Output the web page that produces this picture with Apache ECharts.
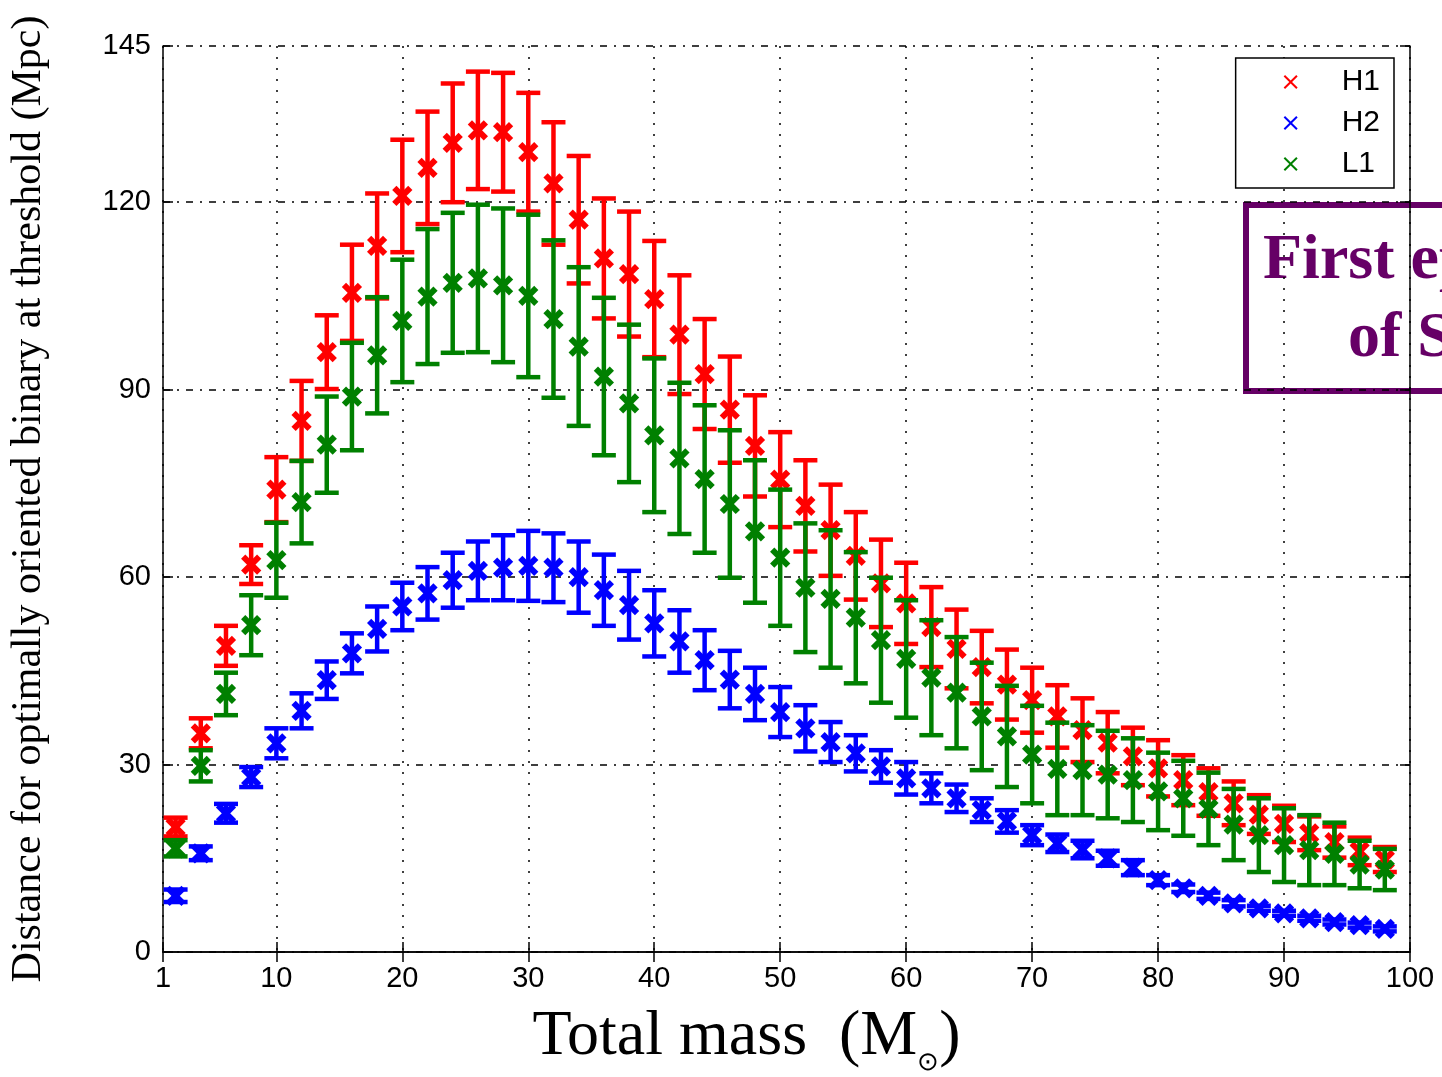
<!DOCTYPE html>
<html>
<head>
<meta charset="utf-8">
<script src="https://cdn.jsdelivr.net/npm/echarts@6/dist/echarts.min.js"></script>
<style>
  html, body { margin: 0; padding: 0; background: #fff; }
  #chart { width: 1442px; height: 1077px; }
</style>
</head>
<body>
<div id="chart"></div>
<script>
// total mass (solar masses)
var masses = [2, 4, 6, 8, 10, 12, 14, 16, 18, 20, 22, 24, 26, 28, 30, 32, 34, 36, 38, 40,
  42, 44, 46, 48, 50, 52, 54, 56, 58, 60, 62, 64, 66, 68, 70, 72, 74, 76, 78, 80,
  82, 84, 86, 88, 90, 92, 94, 96, 98];
var xTicks = [1, 10, 20, 30, 40, 50, 60, 70, 80, 90, 100];

// H1 distance and error (Mpc)
var h1Dist = [20, 35, 49, 62, 74, 85, 96, 105.5, 113, 121, 125.5, 129.5, 131.5, 131.2, 128, 123, 117.2, 111, 108.5, 104.5,
  98.8, 92.5, 86.8, 81, 75.6, 71.4, 67.5, 63.4, 59, 55.8, 52, 48.5, 45.6, 42.8, 40.3, 37.7, 35.5, 33.5, 31.3, 29.4,
  27.5, 25.6, 23.8, 22, 20.5, 19, 17.6, 16.1, 14.8];
var h1Err = [1.5, 2.4, 3.2, 3.1, 5.2, 6.4, 5.9, 7.7, 8.4, 9.0, 9.0, 9.5, 9.4, 9.5, 9.5, 9.8, 10.2, 9.6, 10, 9.3,
  9.5, 8.8, 8.5, 8.1, 7.6, 7.3, 7.3, 7.0, 7.0, 6.5, 6.4, 6.3, 5.8, 5.6, 5.2, 5.0, 5.1, 4.9, 4.6, 4.5,
  4.0, 3.8, 3.5, 3.1, 2.9, 2.7, 2.5, 2.2, 2.0];

// H2
var h2Dist = [9, 15.8, 22.2, 28, 33.4, 38.6, 43.5, 47.8, 51.7, 55.3, 57.4, 59.5, 61, 61.5, 61.8, 61.5, 60, 57.9, 55.5, 52.6,
  49.7, 46.7, 43.6, 41.3, 38.4, 35.8, 33.6, 31.8, 29.7, 27.8, 26.2, 24.6, 22.7, 20.9, 18.7, 17.4, 16.4, 15, 13.5, 11.5,
  10.2, 9, 7.8, 7, 6.2, 5.4, 4.8, 4.3, 3.7];
var h2Err = [1.0, 1.1, 1.5, 1.6, 2.4, 2.8, 3.0, 3.2, 3.6, 3.8, 4.2, 4.4, 4.7, 5.2, 5.6, 5.5, 5.7, 5.7, 5.5, 5.3,
  5.0, 4.8, 4.6, 4.2, 4.0, 3.7, 3.2, 2.9, 2.6, 2.6, 2.4, 2.2, 1.9, 1.8, 1.6, 1.4, 1.4, 1.2, 1.2, 0.8,
  0.6, 0.5, 0.5, 0.4, 0.4, 0.4, 0.4, 0.4, 0.4];

// L1
var l1Dist = [16.6, 29.8, 41.3, 52.3, 62.7, 72, 81.2, 88.9, 95.5, 101, 104.9, 107.1, 107.8, 106.7, 105, 101.3, 96.9, 92.1, 87.8, 82.7,
  79, 75.7, 71.7, 67.3, 63.1, 58.3, 56.5, 53.5, 49.9, 46.9, 43.9, 41.5, 37.7, 34.5, 31.6, 29.3, 29.1, 28.4, 27.5, 25.7,
  24.6, 22.9, 20.4, 18.7, 17.1, 16.3, 15.7, 14, 13.2];
var l1Err = [1.3, 2.5, 3.4, 4.8, 6.0, 6.6, 7.7, 8.6, 9.3, 9.8, 10.8, 11.2, 11.8, 12.3, 13, 12.6, 12.7, 12.6, 12.6, 12.3,
  12.1, 11.8, 11.8, 11.4, 10.9, 10.3, 11, 10.5, 10, 9.4, 9.2, 8.9, 8.6, 8.1, 7.8, 7.4, 7.2, 7.0, 6.7, 6.2,
  6.0, 5.8, 5.7, 5.9, 5.9, 5.6, 5.0, 3.8, 3.3];

var chart = echarts.init(document.getElementById('chart'));

function toRows(dist, err) {
  return masses.map(function (m, i) {
    return [m, dist[i], dist[i] - err[i], dist[i] + err[i]];
  });
}

function renderErr(params, api) {
  var c = api.coord([api.value(0), api.value(1)]);
  var lo = api.coord([api.value(0), api.value(2)]);
  var hi = api.coord([api.value(0), api.value(3)]);
  var color = api.visual('color');
  var cap = 12, m = 8;
  var bar = { stroke: color, lineWidth: 4.5, fill: null };
  var mk = { stroke: color, lineWidth: 6, fill: null };
  return {
    type: 'group',
    children: [
      { type: 'line', shape: { x1: c[0], y1: hi[1], x2: c[0], y2: lo[1] }, style: bar },
      { type: 'line', shape: { x1: c[0] - cap, y1: hi[1], x2: c[0] + cap, y2: hi[1] }, style: bar },
      { type: 'line', shape: { x1: c[0] - cap, y1: lo[1], x2: c[0] + cap, y2: lo[1] }, style: bar },
      { type: 'line', shape: { x1: c[0] - m, y1: c[1] - m, x2: c[0] + m, y2: c[1] + m }, style: mk },
      { type: 'line', shape: { x1: c[0] - m, y1: c[1] + m, x2: c[0] + m, y2: c[1] - m }, style: mk }
    ]
  };
}

var crossIcon = 'path://M0,1L1,0L5,4L9,0L10,1L6,5L10,9L9,10L5,6L1,10L0,9L4,5Z';
var tickFont = 'Liberation Sans, Arial, sans-serif';
var serif = 'Liberation Serif, Times New Roman, serif';

function errSeries(name, color, rows) {
  return {
    name: name,
    type: 'custom',
    renderItem: renderErr,
    itemStyle: { color: color },
    encode: { x: 0, y: [1, 2, 3] },
    data: rows,
    z: 3
  };
}

var option = {
  animation: false,
  backgroundColor: '#fff',
  grid: { left: 163, right: 32, top: 46, bottom: 125, containLabel: false, outerBoundsMode: 'none' },
  legend: {
    orient: 'vertical',
    right: 48,
    top: 58,
    backgroundColor: '#fff',
    borderColor: '#000',
    borderWidth: 1.5,
    padding: [9, 14, 9, 48],
    itemGap: 11,
    itemWidth: 14,
    itemHeight: 14,
    icon: crossIcon,
    textStyle: { fontFamily: tickFont, fontSize: 30, lineHeight: 30, color: '#000', padding: [0, 0, 0, 39] },
    data: ['H1', 'H2', 'L1'],
    z: 10
  },
  xAxis: [{
    type: 'value',
    min: 1,
    max: 100,
    name: 'Total mass  (M{sub|⊙})',
    nameLocation: 'middle',
    nameGap: 46,
    nameTextStyle: {
      fontFamily: serif, fontSize: 64, color: '#000', padding: [0, 80, 0, 0],
      rich: { sub: { fontFamily: serif, fontSize: 26, color: '#000', padding: [52, 0, 0, 0] } }
    },
    axisLine: { lineStyle: { color: '#000', width: 1.5 } },
    axisTick: { inside: true, length: 10, customValues: xTicks, lineStyle: { color: '#000', width: 1.5 } },
    axisLabel: { customValues: xTicks, fontFamily: tickFont, fontSize: 29, color: '#000', margin: 12 },
    splitLine: { show: true, lineStyle: { color: '#000', width: 1.5, type: [2, 9] } }
  }, {
    type: 'value',
    position: 'top',
    min: 1,
    max: 100,
    axisLine: { lineStyle: { color: '#000', width: 1.5 } },
    axisTick: { inside: true, length: 10, customValues: xTicks, lineStyle: { color: '#000', width: 1.5 } },
    axisLabel: { show: false },
    splitLine: { show: false }
  }],
  yAxis: [{
    type: 'value',
    min: 0,
    max: 145,
    interval: 30,
    name: 'Distance for optimally oriented binary at threshold (Mpc)',
    nameLocation: 'middle',
    nameGap: 113,
    nameTextStyle: { fontFamily: serif, fontSize: 42, color: '#000' },
    axisLine: { show: true, lineStyle: { color: '#000', width: 1.5 } },
    axisTick: { show: true, inside: true, length: 10, lineStyle: { color: '#000', width: 1.5 } },
    axisLabel: { fontFamily: tickFont, fontSize: 29, color: '#000', margin: 12, showMaxLabel: true },
    splitLine: { show: true, lineStyle: { color: '#000', width: 1.5, type: [7, 7, 2, 7] } }
  }, {
    type: 'value',
    position: 'right',
    min: 0,
    max: 145,
    interval: 30,
    axisLine: { show: true, lineStyle: { color: '#000', width: 1.5 } },
    axisTick: { show: true, inside: true, length: 10, lineStyle: { color: '#000', width: 1.5 } },
    axisLabel: { show: false },
    splitLine: { show: false }
  }],
  series: [
    errSeries('H1', '#ff0000', toRows(h1Dist, h1Err)),
    errSeries('H2', '#0000ff', toRows(h2Dist, h2Err)),
    errSeries('L1', '#008000', toRows(l1Dist, l1Err))
  ],
  graphic: [{
    type: 'group',
    left: 1243,
    top: 202,
    z: 20,
    children: [
      { type: 'rect', shape: { x: 0, y: 0, width: 260, height: 186 }, style: { fill: '#fff', stroke: '#660066', lineWidth: 6 } },
      { type: 'text', x: 17, y: 24, style: { text: 'First epoch', fill: '#660066', font: 'bold 64px Liberation Serif, Times New Roman, serif' } },
      { type: 'text', x: 102, y: 102, style: { text: 'of S5', fill: '#660066', font: 'bold 64px Liberation Serif, Times New Roman, serif' } }
    ]
  }]
};

chart.setOption(option);
</script>
</body>
</html>
